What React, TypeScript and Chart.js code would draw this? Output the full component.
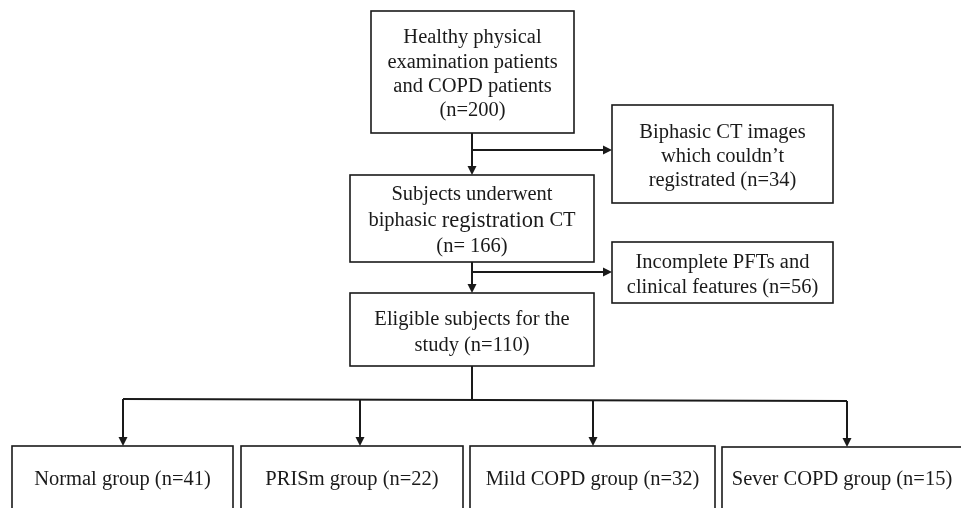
import React, { useEffect, useRef } from "react";
import { Chart, registerables } from "chart.js";

Chart.register(...registerables);

// ---- data ----
const nodeLabels: string[][] = [
  ["Healthy physical", "examination patients", "and COPD patients", "(n={n})"],
  ["Biphasic CT images", "which couldn\u2019t", "registrated (n={n})"],
  ["Subjects underwent", "biphasic |registration| CT", "(n= {n})"],
  ["Incomplete PFTs and", "clinical features (n={n})"],
  ["Eligible subjects for the", "study (n={n})"],
  ["Normal group (n={n})"],
  ["PRISm group (n={n})"],
  ["Mild COPD group (n={n})"],
  ["Sever COPD group (n={n})"],
];
const nodeCounts: number[] = [200, 34, 166, 56, 110, 41, 22, 32, 15];

// ---- layout (pixel space of the hidden linear scales) ----
const boxes = [
  { x0: 371, y0: 11, x1: 574, y1: 133, lines: [37, 62, 86, 110] },
  { x0: 612, y0: 105, x1: 833, y1: 203, lines: [132, 156, 180] },
  { x0: 350, y0: 175, x1: 594, y1: 262, lines: [194, 220, 246] },
  { x0: 612, y0: 242, x1: 833, y1: 303, lines: [262, 287] },
  { x0: 350, y0: 293, x1: 594, y1: 366, lines: [319, 345] },
  { x0: 12, y0: 446, x1: 233, y1: 512, lines: [479] },
  { x0: 241, y0: 446, x1: 463, y1: 512, lines: [479] },
  { x0: 470, y0: 446, x1: 715, y1: 512, lines: [479] },
  { x0: 722, y0: 447, x1: 962, y1: 512, lines: [479] },
];
// connectors: [x0,y0,x1,y1,arrow]
const connectors: [number, number, number, number, boolean][] = [
  [472, 133, 472, 175, true],
  [472, 150, 612, 150, true],
  [472, 262, 472, 293, true],
  [472, 272, 612, 272, true],
  [472, 366, 472, 400, false],
  [123, 399, 847, 401, false],
  [123, 399, 123, 446, true],
  [360, 400, 360, 446, true],
  [593, 400, 593, 446, true],
  [847, 401, 847, 447, true],
];

const FONT = '20.5px "Liberation Serif", "Times New Roman", serif';
const FONT_BIG = '22.5px "Liberation Serif", "Times New Roman", serif';

const flowPlugin = {
  id: "flow",
  afterDraw(chart: any) {
    const ctx = chart.ctx as CanvasRenderingContext2D;
    const xs = chart.scales.x;
    const ys = chart.scales.y;
    const X = (v: number) => xs.getPixelForValue(v);
    const Y = (v: number) => ys.getPixelForValue(v);
    ctx.save();
    ctx.fillStyle = "#fff";
    ctx.fillRect(0, 0, chart.width, chart.height);
    ctx.strokeStyle = "#1a1a1a";
    ctx.fillStyle = "#1a1a1a";
    ctx.lineWidth = 1.6;
    boxes.forEach((b, i) => {
      ctx.strokeRect(X(b.x0), Y(b.y0), X(b.x1) - X(b.x0), Y(b.y1) - Y(b.y0));
      ctx.textAlign = "left";
      ctx.textBaseline = "middle";
      const cx = (X(b.x0) + X(b.x1)) / 2;
      nodeLabels[i].forEach((ln, j) => {
        const t = ln.replace("{n}", String(nodeCounts[i]));
        const parts = t.split("|");
        const widths = parts.map((p, k) => {
          ctx.font = k % 2 === 1 ? FONT_BIG : FONT;
          return ctx.measureText(p).width;
        });
        const total = widths.reduce((a, w) => a + w, 0);
        let x = cx - total / 2;
        parts.forEach((p, k) => {
          ctx.font = k % 2 === 1 ? FONT_BIG : FONT;
          ctx.fillText(p, x, Y(b.lines[j]) + 1);
          x += widths[k];
        });
      });
    });
    ctx.lineWidth = 2;
    connectors.forEach(([x0, y0, x1, y1, arrow]) => {
      const ax = X(x0), ay = Y(y0), bx = X(x1), by = Y(y1);
      const ang = Math.atan2(by - ay, bx - ax);
      const len = 9;
      const ex = arrow ? bx - Math.cos(ang) * len : bx;
      const ey = arrow ? by - Math.sin(ang) * len : by;
      ctx.beginPath();
      ctx.moveTo(ax, ay);
      ctx.lineTo(ex, ey);
      ctx.stroke();
      if (arrow) {
        const w = 4.5;
        ctx.beginPath();
        ctx.moveTo(bx, by);
        ctx.lineTo(ex - Math.sin(ang) * w, ey + Math.cos(ang) * w);
        ctx.lineTo(ex + Math.sin(ang) * w, ey - Math.cos(ang) * w);
        ctx.closePath();
        ctx.fill();
      }
    });
    ctx.restore();
  },
};

export default function App() {
  const ref = useRef<HTMLCanvasElement>(null);
  useEffect(() => {
    document.body.style.margin = "0";
    const chart = new Chart(ref.current!, {
      type: "scatter",
      data: { datasets: [{ data: [] }] },
      options: {
        animation: false,
        responsive: false,
        layout: { padding: 0 },
        plugins: { legend: { display: false }, tooltip: { enabled: false } },
        scales: {
          x: { type: "linear", min: 0, max: 961, display: false },
          y: { type: "linear", min: 0, max: 508, reverse: true, display: false },
        },
      },
      plugins: [flowPlugin],
    });
    return () => chart.destroy();
  }, []);
  return (
    <div style={{ width: 961, height: 508, background: "#fff" }}>
      <canvas ref={ref} width={961} height={508} />
    </div>
  );
}
